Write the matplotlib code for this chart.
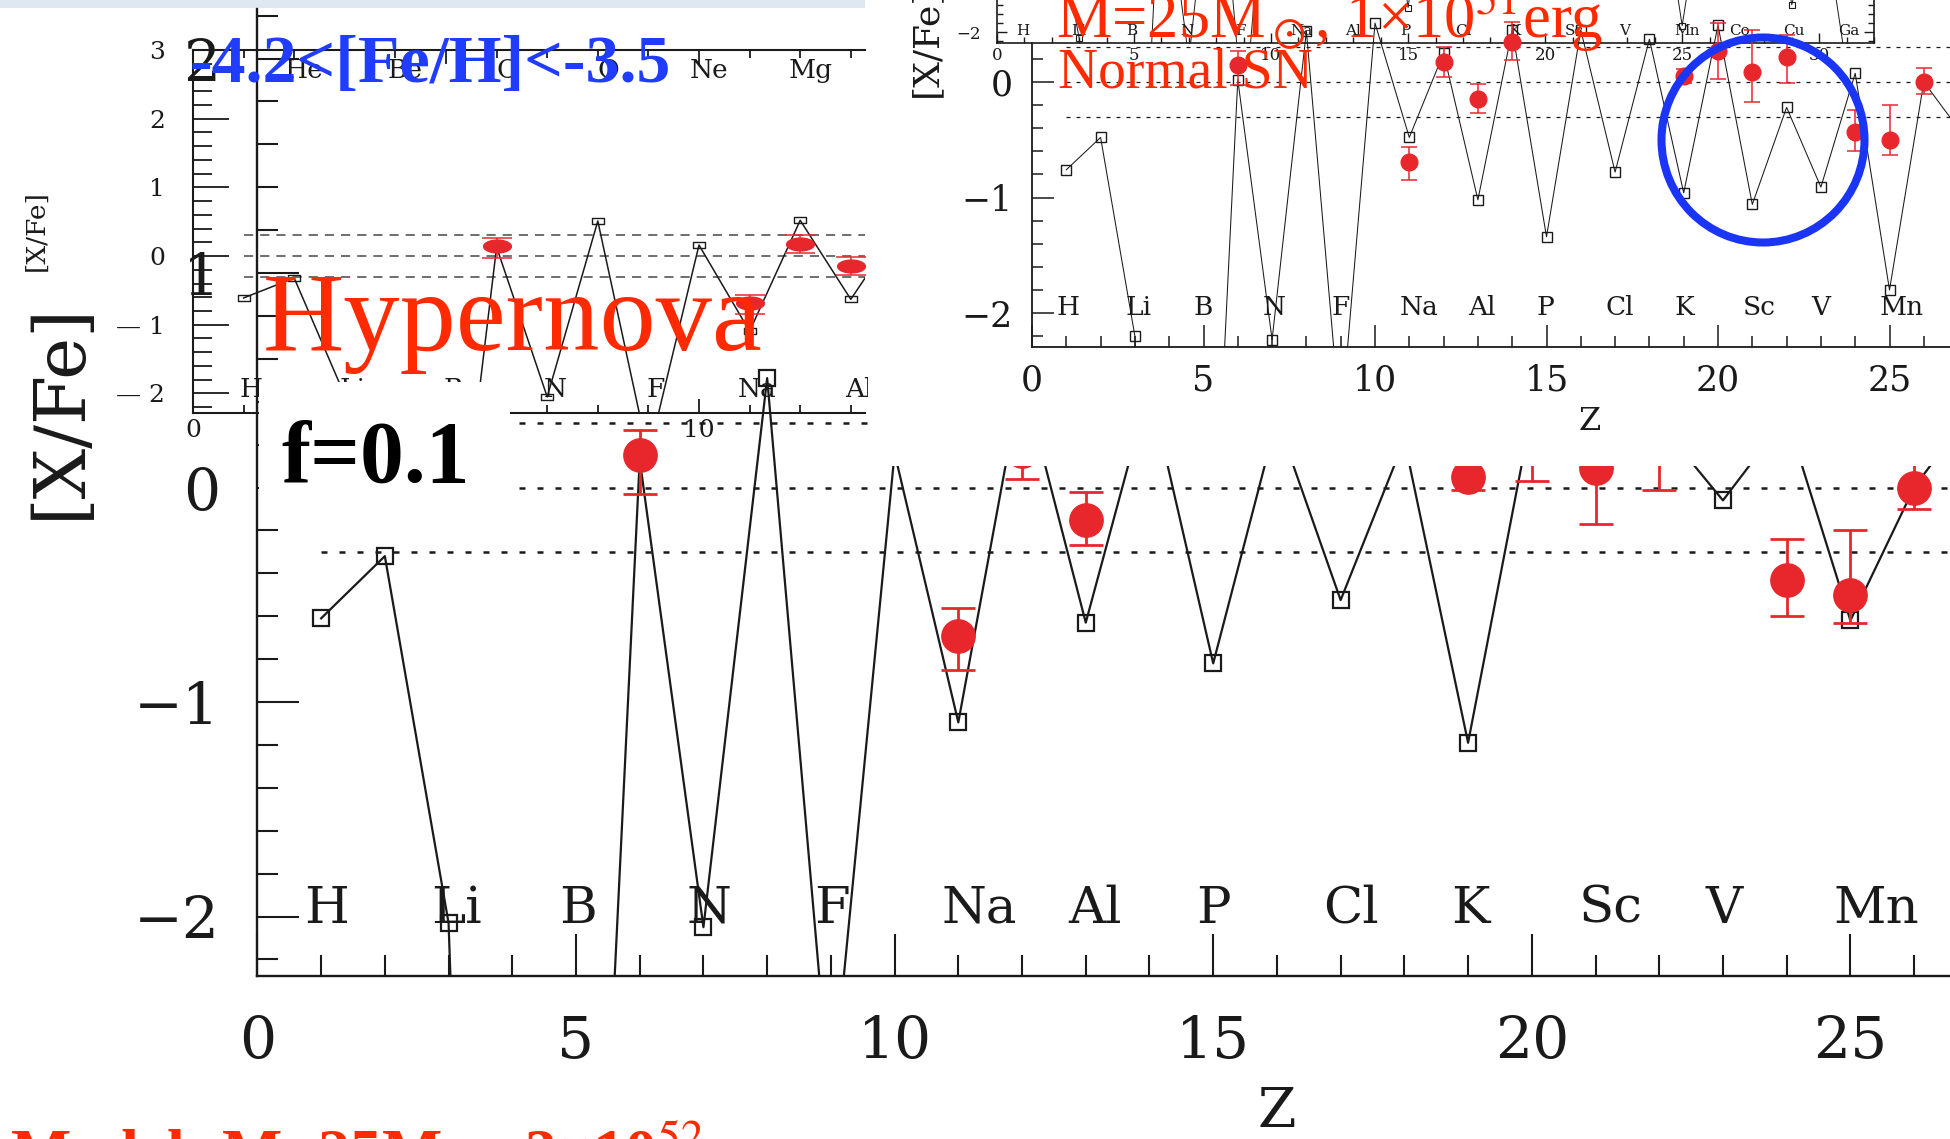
import numpy as np
import matplotlib
matplotlib.use("Agg")
import matplotlib.pyplot as plt
from matplotlib.patches import Rectangle, Ellipse
from matplotlib.path import Path
from matplotlib.ticker import MultipleLocator, FixedLocator

plt.rcParams['mathtext.fontset'] = 'stix'
plt.rcParams['font.family'] = ['DejaVu Serif', 'DejaVu Sans']

# ---------------- data ----------------
model_Z = list(range(1, 28))          # H ... Co
hypernova_model = [-0.61, -0.32, -2.03, -10.5, -6.0, 0.13, -2.05, 0.51, -2.9, 0.16,
                   -1.095, 0.52, -0.63, 0.47, -0.82, 0.32, -0.525, 0.22, -1.19, 0.35,
                   0.25, 0.30, -0.06, 0.33, -0.62, 0.0, 0.40]
normal_sn_model = [-0.76, -0.48, -2.20, -10.0, -6.0, 0.02, -2.23, 0.44, -3.0, 0.51,
                   -0.48, 0.25, -1.02, 0.45, -1.34, 0.45, -0.78, 0.37, -0.96, 0.49,
                   -1.06, -0.22, -0.91, 0.075, -1.80, 0.0, -0.40]
mini_Z = list(range(1, 32))           # H ... Ga
mini_model = [-0.76, -0.48, -2.07, -10.0, -6.0, 0.02, -2.3, 0.44, -3.0, 0.51,
              -0.48, 0.25, -1.02, 0.45, -1.73, 0.45, -0.78, 0.37, -0.96, 0.49,
              -1.06, -0.22, -0.91, 0.075, -1.93, 0.0, -0.5, 0.1, -1.70, -0.4, -2.4]

obs_Z = [6, 11, 12, 13, 14, 19, 20, 21, 22, 24, 25, 26]
obs_val = [0.15, -0.69, 0.17, -0.15, 0.35, 0.05, 0.27, 0.09, 0.22, -0.43, -0.50, 0.0]
obs_err_lo = [0.18, 0.16, 0.13, 0.12, 0.16, 0.06, 0.24, 0.26, 0.23, 0.17, 0.13, 0.10]
obs_err_hi = [0.12, 0.13, 0.13, 0.13, 0.17, 0.06, 0.24, 0.36, 0.19, 0.19, 0.30, 0.12]

odd_Z = [1, 3, 5, 7, 9, 11, 13, 15, 17, 19, 21, 23, 25]
odd_labels = ['H', 'Li', 'B', 'N', 'F', 'Na', 'Al', 'P', 'Cl', 'K', 'Sc', 'V', 'Mn']
mini_odd_Z = [1, 3, 5, 7, 9, 11, 13, 15, 17, 19, 21, 23, 25, 27, 29, 31]
mini_odd_labels = ['H', 'Li', 'B', 'N', 'F', 'Na', 'Al', 'P', 'Cl', 'K', 'Sc', 'V',
                   'Mn', 'Co', 'Cu', 'Ga']
tl_even_Z = [2, 4, 6, 8, 10, 12]
tl_even_labels = ['He', 'Be', 'C', 'O', 'Ne', 'Mg']
tl_odd_Z = [1, 3, 5, 7, 9, 11, 13]
tl_odd_labels = ['H', 'Li', 'B', 'N', 'F', 'Na', 'Al']
ref_levels = [0.3, 0.0, -0.3]

main_yticks = [-2, -1, 0, 1, 2]
tl_yticks = [-2, -1, 0, 1, 2, 3]
tl_ytick_labels = ['— 2', '— 1', '0', '1', '2', '3']

# ---------------- layout helpers (pixel coords, origin top-left) ----------------
W, H = 1950, 1139
fig = plt.figure(figsize=(W / 100, H / 100), dpi=100)
fig.patch.set_facecolor('white')


def box(x0, y0, x1, y1):
    return [x0 / W, 1 - y1 / H, (x1 - x0) / W, (y1 - y0) / H]


def fpt(x, y):
    return x / W, 1 - y / H


RED = '#e8272d'
TXT_RED = '#ff2a00'
BLUE = '#1f3cff'
INK = '#1a1a1a'
SERIF = 'DejaVu Serif'
TIMES = 'Liberation Serif'

rect_marker = Path([(-1, -0.55), (1, -0.55), (1, 0.55), (-1, 0.55), (-1, -0.55)], closed=True)
_t = np.linspace(0, 2 * np.pi, 49)
ell_marker = Path(np.column_stack([np.cos(_t), 0.46 * np.sin(_t)]), closed=True)

# light strip at very top
fig.add_artist(Rectangle((0, 1 - 8 / H), 865 / W, 8 / H, transform=fig.transFigure,
                         fc='#dfe7f2', ec='none', zorder=0.5))

# ================= top-left inset =================
ax_tl = fig.add_axes(box(193, 50, 865, 413), zorder=1)
ax_tl.patch.set_visible(False)
ax_tl.set_xlim(0, (865 - 193) / 50.6)
ax_tl.set_ylim(-2.285, 3.0)
ax_tl.spines['right'].set_visible(False)
for s in ('left', 'top', 'bottom'):
    ax_tl.spines[s].set_linewidth(1.5)
    ax_tl.spines[s].set_color(INK)
ax_tl.hlines(ref_levels, 1, ax_tl.get_xlim()[1], colors='#555555', lw=1.2,
             linestyles=(0, (5.5, 4.2)), zorder=1)
ax_tl.plot(model_Z, hypernova_model, '-', color=INK, lw=1.1, marker=rect_marker, ms=8,
           mfc='none', mec=INK, mew=1.0, zorder=2)
ax_tl.errorbar(obs_Z, obs_val, yerr=[obs_err_lo, obs_err_hi], fmt='none', ecolor=RED,
               elinewidth=1.1, capsize=11, capthick=1.1, zorder=3)
ax_tl.plot(obs_Z, obs_val, ls='none', marker=ell_marker, ms=20, color=RED, mec=RED, zorder=4)
ax_tl.set_yticks(tl_yticks, labels=tl_ytick_labels)
ax_tl.yaxis.set_minor_locator(MultipleLocator(0.2))
ax_tl.tick_params(axis='y', which='major', direction='in', length=26, width=1.3,
                  labelsize=18, pad=20, colors=INK)
ax_tl.tick_params(axis='y', which='minor', direction='in', length=14, width=1.3, colors=INK)
ax_tl.set_xticks([0, 5, 10], labels=['0', '5', '10'])
ax_tl.xaxis.set_minor_locator(MultipleLocator(1))
ax_tl.tick_params(axis='x', which='major', direction='in', length=10, width=1.3, top=True,
                  labelsize=18, pad=4, colors=INK)
ax_tl.tick_params(axis='x', which='minor', direction='in', length=5.5, width=1.3, top=True,
                  colors=INK)
for z, el in zip(tl_even_Z, tl_even_labels):
    ax_tl.text(z + 0.2, 2.59, el, ha='center', va='baseline', fontsize=19, color=INK)
for z, el in zip(tl_odd_Z, tl_odd_labels):
    ax_tl.text(z + 0.15, -2.05, el, ha='center', va='baseline', fontsize=19, color=INK)
fig.text(*fpt(36, 231), '[X/Fe]', rotation=90, ha='center', va='center', fontsize=19,
         color=INK)

# ================= main chart =================
ax = fig.add_axes(box(257.4, 8.7, W, 976.2), zorder=2)
ax.patch.set_visible(False)
ax.set_xlim(0, (W - 257.4) / 63.72)
ax.set_ylim((487.5 - 976.2) / 214.5, (487.5 - 8.7) / 214.5)
ax.spines['top'].set_visible(False)
ax.spines['right'].set_visible(False)
for s in ('left', 'bottom'):
    ax.spines[s].set_linewidth(1.7)
    ax.spines[s].set_color(INK)
ax.hlines(ref_levels, 1, ax.get_xlim()[1], colors=INK, lw=1.8,
          linestyles=(0, (2.4, 4.8)), zorder=1)
ax.plot(model_Z, hypernova_model, '-', color=INK, lw=1.6, marker='s', ms=11.5,
        mfc='none', mec=INK, mew=1.6, zorder=2)
ax.errorbar(obs_Z, obs_val, yerr=[obs_err_lo, obs_err_hi], fmt='o', color=RED, ms=24,
            ecolor=RED, elinewidth=2.0, capsize=12, capthick=2.0, zorder=3)
ax.xaxis.set_major_locator(MultipleLocator(5))
ax.xaxis.set_minor_locator(MultipleLocator(1))
ax.yaxis.set_major_locator(FixedLocator(main_yticks))
ax.yaxis.set_minor_locator(MultipleLocator(0.2))
ax.tick_params(which='major', direction='in', length=30, width=1.5, colors=INK,
               labelsize=42)
ax.tick_params(which='minor', direction='in', length=15, width=1.5, colors=INK)
ax.tick_params(axis='y', pad=27)
ax.tick_params(axis='x', pad=27)
for z, el in zip(odd_Z, odd_labels):
    ax.text(z - 0.27, -2.03, el, ha='left', va='baseline', fontsize=37, color=INK)
fig.text(*fpt(1277, 1113), 'Z', ha='center', va='center', fontsize=40, color=INK)
fig.text(*fpt(60, 411), '[X/Fe]', rotation=90, ha='center', va='center', fontsize=51,
         color=INK)

# white label box of the main panel
fig.add_artist(Rectangle(fpt(259, 522), (510 - 259) / W, (522 - 382) / H,
                         transform=fig.transFigure, fc='white', ec='none', zorder=2.5))

# ================= top-right inset (normal SN) =================
fig.add_artist(Rectangle(fpt(868, 466), (W - 868) / W, 466 / H, transform=fig.transFigure,
                         fc='white', ec='none', zorder=3))

# nested small chart at its top
ax_mini = fig.add_axes(box(997, 0, 1874, 43), zorder=4)
ax_mini.set_facecolor('white')
ax_mini.set_xlim(0, 32)
ax_mini.set_ylim(-2.121, -1.647)
ax_mini.spines['top'].set_visible(False)
for s in ('left', 'bottom', 'right'):
    ax_mini.spines[s].set_linewidth(1.2)
    ax_mini.spines[s].set_color(INK)
ax_mini.plot(mini_Z, mini_model, '-', color=INK, lw=0.7, marker='s', ms=4.5, mfc='none',
             mec=INK, mew=0.8)
ax_mini.xaxis.set_major_locator(MultipleLocator(5))
ax_mini.xaxis.set_minor_locator(MultipleLocator(1))
ax_mini.set_yticks([-2], labels=['−2'])
ax_mini.yaxis.set_minor_locator(MultipleLocator(0.1))
ax_mini.tick_params(which='major', direction='in', length=7, width=1.0, right=True,
                    labelsize=12, pad=3, colors=INK)
ax_mini.tick_params(which='minor', direction='in', length=4, width=1.0, right=True,
                    colors=INK)
ax_mini.tick_params(axis='y', pad=12)
for z, el in zip(mini_odd_Z, mini_odd_labels):
    ax_mini.text(z - 0.3, -2.03, el, ha='left', va='baseline', fontsize=11, color=INK)

ax_tr = fig.add_axes(box(1032, 42.7, W, 347), zorder=5)
ax_tr.patch.set_visible(False)
ax_tr.set_xlim(0, (W - 1032) / 34.3)
ax_tr.set_ylim(-2.294, 0.34)
ax_tr.spines['top'].set_visible(False)
ax_tr.spines['right'].set_visible(False)
for s in ('left', 'bottom'):
    ax_tr.spines[s].set_linewidth(1.3)
    ax_tr.spines[s].set_color(INK)
clip_tr = Rectangle(fpt(1032, 347), (W - 1032) / W, 347 / H, transform=fig.transFigure,
                    fc='none', ec='none')
ax_tr.hlines(ref_levels, 1, ax_tr.get_xlim()[1], colors=INK, lw=0.9,
             linestyles=(0, (3.2, 4.8)), zorder=1)
l_tr, = ax_tr.plot(model_Z, normal_sn_model, '-', color=INK, lw=0.75, marker='s', ms=6.5,
                   mfc='none', mec=INK, mew=1.0, zorder=2)
l_tr.set_clip_path(clip_tr)
eb = ax_tr.errorbar(obs_Z, obs_val, yerr=[obs_err_lo, obs_err_hi], fmt='o', color=RED,
                    ms=12, ecolor=RED, elinewidth=1.1, capsize=6, capthick=1.1, zorder=3)
eb[0].set_clip_path(clip_tr)
for a in list(eb[1]) + list(eb[2]):
    a.set_clip_path(clip_tr)
ax_tr.xaxis.set_major_locator(MultipleLocator(5))
ax_tr.xaxis.set_minor_locator(MultipleLocator(1))
ax_tr.yaxis.set_major_locator(FixedLocator([-2, -1, 0]))
ax_tr.yaxis.set_minor_locator(MultipleLocator(0.2))
ax_tr.tick_params(which='major', direction='in', length=16, width=1.1, colors=INK,
                  labelsize=25)
ax_tr.tick_params(which='minor', direction='in', length=8, width=1.1, colors=INK)
ax_tr.tick_params(axis='y', pad=14)
ax_tr.tick_params(axis='x', pad=12)
for z, el in zip(odd_Z, odd_labels):
    ax_tr.text(z - 0.28, -2.02, el, ha='left', va='baseline', fontsize=19, color=INK)
fig.text(*fpt(1590, 421), 'Z', ha='center', va='center', fontsize=23, color=INK, zorder=6)
fig.text(*fpt(926, 42), '[X/Fe]', rotation=90, ha='center', va='center', fontsize=26,
         color=INK, zorder=6)

# ================= overlay texts =================
fig.text(*fpt(190, 82), '-4.2<[Fe/H]<-3.5', fontsize=49, fontweight='bold', family=TIMES,
         color=BLUE, ha='left', va='baseline', zorder=7)
fig.text(*fpt(263, 350), 'Hypernova', fontsize=81, family=TIMES, color=TXT_RED,
         ha='left', va='baseline', zorder=7)
fig.text(*fpt(281, 482), 'f=0.1', fontsize=63, fontweight='bold', family=TIMES,
         color='black', ha='left', va='baseline', zorder=7)
fig.text(*fpt(1056, 38), r'M=25M$_\odot$, 1×10$^{51}$erg', fontsize=45, family=TIMES,
         color=TXT_RED, ha='left', va='baseline', zorder=7)
fig.text(*fpt(1058, 87), 'Normal SN', fontsize=40, family=TIMES, color=TXT_RED,
         ha='left', va='baseline', zorder=7)
fig.text(*fpt(10, 1174), r'Model: M=25M$_\odot$, 3×10$^{52}$erg', fontsize=46,
         fontweight='bold', family=TIMES, color=TXT_RED, ha='left', va='baseline', zorder=7)

fig.add_artist(Ellipse(fpt(1763, 140), 203 / W, 205 / H, transform=fig.transFigure,
                       fill=False, ec='#1a35f5', lw=5.8, zorder=7))

fig.savefig('out.png', dpi=100, facecolor='white')
